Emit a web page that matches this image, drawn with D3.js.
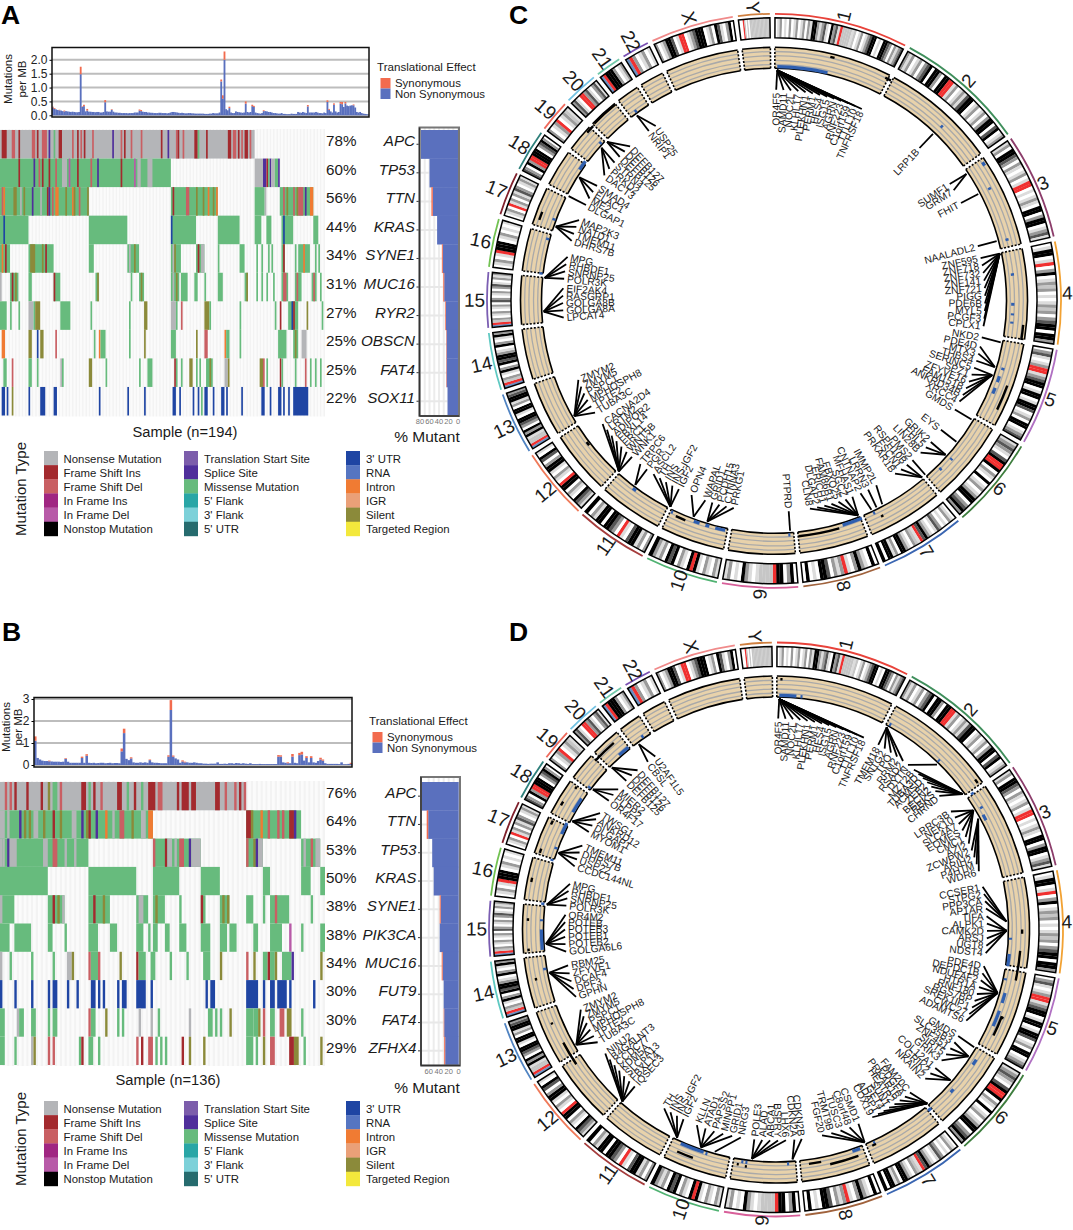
<!DOCTYPE html>
<html><head><meta charset="utf-8">
<style>html,body{margin:0;background:#fff}svg{display:block}text{font-family:"Liberation Sans",Arial,sans-serif;fill:#1a1a1a}</style>
<script src="https://cdn.jsdelivr.net/npm/d3@7/dist/d3.min.js"></script></head><body><script>
// ---------- mutation type legend ----------
const typeCodes=["N","I","D","J","K","O","T","P","M","F","G","U","V","R","E","Y","S","Z"];
const typeNames=["Nonsense Mutation","Frame Shift Ins","Frame Shift Del","In Frame Ins","In Frame Del","Nonstop Mutation","Translation Start Site","Splice Site","Missense Mutation","5' Flank","3' Flank","5' UTR","3' UTR","RNA","Intron","IGR","Silent","Targeted Region"];
const typeColors=["#b4b5b8","#a32a2e","#c95f63","#a02682","#b85aa8","#000000","#7c5dab","#4f2f9b","#67bb7d","#29a6a6","#7dd1d9","#266b6e","#1f45a3","#5675c1","#f07b33","#eaa078","#8b8a3a","#f3e83c"];
// ---------- cohort A ----------
const genesA=["APC","TP53","TTN","KRAS","SYNE1","MUC16","RYR2","OBSCN","FAT4","SOX11"];
const pctA=["78%","60%","56%","44%","34%","31%","27%","25%","25%","22%"];
const nonSynPctA=[78,60,53,44,32,29,25.5,24,24,22];
const synPctA=[0,0,3,0,2,2,1.5,1,1,0];
const A_APC=[[0,152,"N"],[1,4,"I"],[7,9,"D"],[11,12,"I"],[19,21,"D"],[22,23,"I"],[25,28,"D"],[29,30,"P"],[32,33,"M"],[35,37,"I"],[43,44,"D"],[46,47,"I"],[48,49,"D"],[50,51,"I"],[55,56,"D"],[67,68,"P"],[72,73,"D"],[74,75,"I"],[78,79,"D"],[84,85,"D"],[96,97,"I"],[100,101,"P"],[105,106,"D"],[106,107,"I"],[109,110,"D"],[116,118,"I"],[118,119,"M"],[123,124,"I"],[136,138,"I"],[139,141,"D"],[142,143,"I"],[144,145,"D"],[146,148,"I"],[149,150,"D"]];
const A_TP53=[[0,102,"M"],[11,12,"I"],[20,21,"P"],[23,24,"D"],[25,26,"I"],[29,30,"I"],[33,34,"D"],[37,40,"N"],[41,42,"K"],[46,47,"I"],[54,55,"D"],[58,59,"P"],[72,73,"I"],[80,81,"K"],[82,84,"N"],[88,91,"N"],[152,157,"N"],[157,159,"P"],[159,160,"I"],[160,161,"M"],[161,162,"P"],[162,164,"N"],[164,166,"M"],[166,167,"P"]];
const A_TTN=[[0,53,"M"],[1,2,"D"],[2,3,"E"],[8,10,"S"],[12,13,"N"],[14,15,"S"],[19,20,"P"],[24,25,"N"],[28,29,"I"],[29,30,"P"],[31,32,"D"],[33,35,"E"],[39,40,"S"],[43,44,"E"],[44,45,"S"],[47,48,"D"],[52,53,"S"],[102,130,"M"],[103,104,"I"],[111,113,"D"],[117,118,"S"],[121,122,"S"],[124,125,"E"],[127,128,"S"],[129,130,"E"],[152,158,"M"],[158,159,"N"],[167,187,"M"],[169,170,"D"],[171,172,"S"],[175,176,"D"],[177,178,"S"],[178,181,"D"],[182,183,"P"],[185,187,"E"]];
const A_KRAS=[[0,17,"M"],[2,3,"V"],[53,76,"M"],[102,117,"M"],[102,103,"V"],[130,143,"M"],[152,156,"M"],[159,162,"M"],[168,175,"M"],[169,170,"V"],[187,190,"M"]];
const A_SYNE1=[[0,6,"M"],[1,2,"E"],[3,4,"I"],[17,32,"M"],[18,21,"S"],[25,26,"S"],[27,28,"I"],[53,56,"M"],[76,83,"M"],[77,78,"N"],[80,81,"S"],[102,108,"M"],[103,104,"N"],[104,105,"S"],[117,122,"M"],[118,119,"I"],[120,122,"N"],[130,131,"M"],[143,146,"M"],[153,154,"M"],[156,157,"M"],[160,161,"M"],[162,163,"M"],[168,170,"M"],[169,170,"I"],[176,177,"M"],[178,185,"M"],[181,182,"E"],[188,189,"M"],[190,191,"M"]];
const A_MUC16=[[0,1,"N"],[6,11,"M"],[7,8,"I"],[9,10,"S"],[17,19,"M"],[32,36,"M"],[32,33,"I"],[57,59,"M"],[58,59,"S"],[78,79,"M"],[83,86,"M"],[84,85,"S"],[102,107,"M"],[103,104,"N"],[105,106,"S"],[108,112,"M"],[116,118,"M"],[122,123,"M"],[130,133,"M"],[146,148,"M"],[147,148,"S"],[153,154,"M"],[156,157,"M"],[159,160,"M"],[163,164,"M"],[168,172,"M"],[169,171,"D"],[176,180,"M"],[177,178,"D"],[186,189,"M"],[187,188,"D"],[191,192,"M"]];
const A_RYR2=[[0,4,"M"],[6,7,"M"],[11,12,"M"],[17,20,"N"],[20,21,"M"],[21,24,"S"],[36,42,"M"],[54,55,"M"],[77,78,"M"],[86,88,"S"],[102,105,"N"],[105,106,"M"],[108,109,"D"],[122,125,"S"],[125,126,"M"],[143,144,"M"],[164,165,"M"],[167,168,"I"],[172,178,"M"],[174,175,"V"],[175,176,"I"],[183,184,"S"],[192,193,"M"]];
const A_OBSCN=[[1,3,"E"],[17,19,"S"],[22,23,"V"],[24,26,"S"],[33,34,"D"],[56,57,"M"],[59,60,"E"],[60,63,"M"],[77,78,"M"],[86,87,"S"],[102,105,"M"],[117,118,"S"],[122,124,"D"],[134,135,"E"],[135,137,"M"],[143,144,"M"],[166,171,"M"],[175,178,"M"],[176,177,"S"],[180,183,"N"]];
const A_FAT4=[[2,4,"M"],[7,8,"D"],[17,19,"M"],[22,23,"M"],[36,37,"N"],[37,38,"M"],[53,55,"S"],[63,64,"M"],[83,84,"M"],[88,91,"M"],[104,105,"I"],[105,106,"M"],[108,109,"M"],[113,115,"S"],[117,118,"M"],[119,120,"M"],[123,127,"M"],[125,126,"S"],[134,136,"N"],[136,137,"S"],[155,157,"S"],[157,158,"D"],[159,160,"M"],[167,168,"I"],[168,169,"M"],[176,177,"M"],[182,183,"D"],[185,186,"M"],[188,189,"M"],[191,192,"M"]];
const A_SOX11=[[1,3,"V"],[4,5,"V"],[7,8,"S"],[17,18,"V"],[24,27,"V"],[32,34,"V"],[59,60,"V"],[76,77,"V"],[86,87,"V"],[103,105,"V"],[107,108,"V"],[115,116,"V"],[118,119,"V"],[120,121,"M"],[122,124,"V"],[127,128,"V"],[132,134,"V"],[135,136,"V"],[144,145,"V"],[156,158,"V"],[161,162,"V"],[166,168,"V"],[169,170,"V"],[172,173,"V"],[175,184,"V"]];
const rowsA=[A_APC,A_TP53,A_TTN,A_KRAS,A_SYNE1,A_MUC16,A_RYR2,A_OBSCN,A_FAT4,A_SOX11];
const burdenNonSynA=[.28,.23,.21,.19,.18,.17,.15,.14,.15,.14,.13,.12,.13,.12,.11,.11,.12,1.48,.3,.33,.14,.17,.13,.13,.12,.12,.11,.12,.12,.1,.1,.12,.47,.14,.13,.13,.2,.13,.1,.1,.09,.09,.08,.08,.08,.08,.07,.08,.08,.08,.1,.1,.1,.17,.15,.13,.12,.12,.1,.1,.09,.09,.08,.08,.08,.09,.09,.08,.08,.08,.07,.08,.1,.12,.12,.11,.1,.09,.08,.09,.08,.07,.07,.08,.08,.07,.07,.06,.06,.06,.06,.06,.06,.05,.05,.05,.06,.06,.08,.07,.07,.07,.1,1.22,.6,2.0,.22,.18,.26,.1,.08,.08,.14,.12,.11,.1,.09,.1,.42,.12,.1,.12,.33,.3,.1,.08,.07,.06,.08,.15,.15,.14,.12,.12,.1,.08,.08,.07,.06,.06,.08,.05,.05,.04,.04,.04,.06,.05,.05,.05,.12,.1,.09,.12,.1,.08,.32,.1,.1,.1,.1,.12,.1,.08,.08,.07,.1,.08,.48,.2,.14,.1,.38,.14,.1,.12,.42,.4,.3,.43,.35,.33,.35,.36,.36,.28,.12,.1,.12,.08,.06,.05,.04,.03];
const burdenSynA=[[0,.03],[1,.03],[4,.02],[7,.03],[17,.27],[18,.02],[19,.05],[21,.06],[32,.08],[36,.02],[53,.04],[54,.04],[103,.07],[104,.12],[105,.3],[108,.05],[118,.08],[122,.05],[123,.04],[129,.03],[156,.05],[168,.06],[169,.03],[172,.05],[176,.06],[177,.08],[179,.05],[184,.03]];
// ---------- cohort B ----------
const genesB=["APC","TTN","TP53","KRAS","SYNE1","PIK3CA","MUC16","FUT9","FAT4","ZFHX4"];
const pctB=["76%","64%","53%","50%","38%","38%","34%","30%","30%","29%"];
const nonSynPctB=[76,61,53,50,36,38,32,30,29,27];
const synPctB=[0,3,0,0,2,0,2,0,1,2];
const B_APC=[[0,103,"N"],[2,3,"D"],[4,5,"D"],[6,7,"I"],[11,12,"I"],[17,18,"I"],[20,21,"S"],[22,24,"M"],[25,26,"D"],[34,36,"I"],[37,38,"M"],[39,40,"I"],[42,43,"D"],[49,51,"I"],[53,54,"M"],[56,57,"I"],[59,60,"M"],[62,65,"I"],[66,68,"D"],[74,75,"I"],[76,79,"I"],[80,82,"I"],[90,92,"I"],[94,95,"D"],[98,99,"D"],[100,101,"I"],[102,103,"D"]];
const B_TTN=[[0,64,"M"],[0,2,"N"],[3,4,"N"],[8,9,"P"],[10,11,"S"],[12,13,"S"],[14,16,"N"],[18,19,"S"],[22,23,"I"],[25,26,"S"],[30,32,"N"],[34,35,"P"],[36,37,"S"],[37,38,"I"],[40,41,"P"],[44,45,"E"],[47,48,"N"],[50,52,"D"],[55,56,"S"],[59,61,"N"],[62,64,"E"],[103,126,"M"],[103,105,"I"],[105,106,"S"],[109,110,"E"],[112,113,"D"],[116,117,"D"],[118,119,"D"],[121,123,"I"],[123,124,"P"]];
const B_TP53=[[0,37,"M"],[0,1,"N"],[1,2,"N"],[3,4,"P"],[4,7,"N"],[18,20,"N"],[22,24,"D"],[27,28,"N"],[31,32,"N"],[64,84,"M"],[64,65,"D"],[69,70,"I"],[70,72,"N"],[73,74,"N"],[75,77,"D"],[79,80,"P"],[80,84,"N"],[103,110,"M"],[103,104,"D"],[106,107,"S"],[107,108,"P"],[108,110,"N"],[126,134,"M"],[127,128,"N"],[130,131,"D"],[132,134,"N"]];
const B_KRAS=[[0,20,"M"],[37,57,"M"],[64,75,"M"],[84,92,"M"],[110,113,"M"],[126,130,"M"],[134,136,"M"]];
const B_SYNE1=[[0,6,"M"],[0,1,"N"],[20,27,"M"],[22,23,"I"],[24,25,"S"],[26,27,"N"],[37,46,"M"],[39,40,"I"],[43,44,"S"],[57,62,"M"],[58,60,"N"],[64,69,"M"],[65,66,"S"],[75,76,"M"],[84,86,"M"],[84,85,"I"],[92,96,"M"],[93,94,"S"],[95,96,"S"],[103,106,"M"],[110,111,"M"],[113,121,"M"],[115,116,"D"],[130,131,"M"]];
const B_PIK3CA=[[0,4,"M"],[6,13,"M"],[20,22,"M"],[27,28,"M"],[37,41,"M"],[46,49,"M"],[57,60,"M"],[62,63,"M"],[64,66,"M"],[69,71,"M"],[75,78,"M"],[84,88,"M"],[92,95,"M"],[96,99,"M"],[106,108,"M"],[113,118,"M"],[121,122,"K"],[126,127,"M"],[134,136,"M"]];
const B_MUC16=[[0,1,"N"],[4,5,"M"],[13,14,"M"],[22,23,"M"],[28,30,"N"],[30,31,"S"],[37,38,"D"],[38,41,"M"],[41,42,"D"],[50,51,"S"],[57,58,"I"],[58,61,"M"],[63,65,"M"],[71,72,"M"],[78,79,"M"],[85,88,"M"],[92,93,"S"],[103,104,"D"],[106,107,"S"],[110,112,"M"],[112,113,"I"],[113,115,"M"],[115,116,"S"],[118,122,"M"],[122,123,"P"],[134,135,"S"]];
const B_FUT9=[[0,1,"V"],[6,7,"V"],[13,14,"V"],[20,21,"V"],[22,24,"V"],[28,29,"V"],[32,33,"V"],[38,40,"V"],[41,42,"V"],[43,44,"V"],[49,50,"V"],[51,53,"V"],[57,61,"V"],[63,64,"V"],[86,87,"V"],[88,90,"V"],[103,108,"V"],[110,111,"V"],[113,115,"V"],[116,120,"V"],[121,122,"V"],[131,132,"V"]];
const B_FAT4=[[0,2,"M"],[7,8,"N"],[8,10,"M"],[13,15,"M"],[20,21,"M"],[22,24,"M"],[37,38,"D"],[38,40,"M"],[44,45,"S"],[49,50,"M"],[51,52,"M"],[58,59,"N"],[63,64,"N"],[66,67,"M"],[79,80,"N"],[87,89,"M"],[90,91,"M"],[92,93,"M"],[96,97,"S"],[103,106,"M"],[106,108,"M"],[108,109,"S"],[110,111,"D"],[113,115,"M"],[117,119,"D"],[120,122,"S"],[126,127,"M"]];
const B_ZFHX4=[[0,2,"M"],[6,7,"M"],[13,14,"N"],[14,15,"S"],[20,21,"D"],[22,23,"D"],[33,34,"M"],[34,35,"I"],[37,39,"M"],[41,42,"M"],[57,58,"D"],[59,60,"I"],[62,64,"D"],[65,66,"M"],[67,68,"M"],[69,70,"M"],[76,77,"I"],[79,80,"S"],[85,86,"S"],[103,106,"M"],[107,108,"M"],[110,111,"S"],[113,115,"D"],[121,123,"I"],[123,125,"S"],[127,128,"M"],[134,135,"S"]];
const rowsB=[B_APC,B_TTN,B_TP53,B_KRAS,B_SYNE1,B_PIK3CA,B_MUC16,B_FUT9,B_FAT4,B_ZFHX4];
const burdenNonSynB=[1.1,.32,.25,.2,.18,.18,.17,.16,.15,.15,.15,.14,.15,.28,.15,.1,.1,.1,.1,.1,.32,.1,.42,.1,.09,.1,.08,.09,.1,.1,.08,.09,.1,.08,.09,.09,.08,.62,1.45,.28,.22,.3,.12,.1,.1,.12,.1,.12,.1,.22,.12,.1,.1,.09,.08,.08,.08,.38,2.5,.38,.3,.25,.1,.16,.12,.12,.1,.1,.12,.1,.08,.08,.06,.06,.05,.06,.06,.06,.12,.05,.05,.06,.05,.08,.08,.06,.09,.08,.06,.08,.06,.05,.08,.04,.04,.04,.05,.04,.04,.04,.04,.04,.04,.04,.38,.38,.12,.1,.08,.08,.38,.1,.08,.45,.48,.2,.32,.12,.32,.12,.1,.18,.25,.2,.08,.05,.05,.05,.05,.05,.04,.12,.03,.03,.05,.05];
const burdenSynB=[[0,.2],[6,.03],[13,.03],[20,.06],[22,.07],[37,.13],[38,.2],[41,.05],[49,.03],[57,.06],[58,.45],[59,.05],[63,.05],[64,.03],[104,.07],[105,.06],[108,.04],[110,.12],[113,.1],[114,.12],[116,.08],[118,.08],[122,.08],[123,.05],[135,.05]];
// ---------- genome ----------
const chrNames=["1","2","3","4","5","6","7","8","9","10","11","12","13","14","15","16","17","18","19","20","21","22","X","Y"];
const chrLengthMb=[249,243,198,191,181,171,159,146,141,136,135,134,115,107,103,90,81,78,59,63,48,51,155,59];
const chrColors=["#e8423a","#3f8f5c","#8c3d6b","#f2a233","#b070c2","#3d7d3d","#3a66b2","#a0623c","#d8609a","#50b272","#a53c3c","#ef7a5a","#5184c2","#5fc9c2","#7b5eb2","#72c252","#7f202c","#2f807b","#ef6a5c","#72c2e2","#72c9aa","#7a50b2","#f08a8a","#d08040"];
const chrBands=["wlgwlwgwlgwlgwglkkglgdlwkgdlrcccclcwlgwlgdkkwlwkkdgwglgd","glgwlgwgdkwkkgwkkrrlgwlgldkkwlgwlgwgkkwdkwlg","lgwkkdgwglwlgwlrrwlwlglwkkwgkkwlgdl","wlkkwlrwgkwlgcgwlwlgcgwgdkkwkkg","wgdlwlgrrlgdkkwlkkwlkkdwlgwkkwlgd","lgdglwdkrrkwglwkwlgwlgkkwgdkg","wlgwlwgdlwlgkdrlcgwlgkkwglkkwk","wkwlgkgwlrglgwdkkwlwkw","wkgwkkrcccclwlgkwlwgl","lgwlgwlkrkwlgwkdkwglgk","gwglkkdwlrwgdkkwkklgwk","lgdkwlgwkkrwlgwlkkgwdkwl","srcclkgkwgdkkwlkkwglkkdg","srcgwlkgwkdkkglwkgwlkg","srcgwlgwlgwdgwlgwgdlwglg","wlgwlrkkkwlgwlwl","wlgwrlgwgldgwlgl","dgwkgrrkkkwgdkgw","gwlgrwlgcl","gdlwrrgdlwgdl","srkkkgwlg","srgwlgwl","gwlgkkdwlrrwlgdkkkwlgwkdlwgkw","wwwrcwcwccccccccccccccc"];
const bandShades={w:"#ffffff",l:"#dcdcdc",c:"#c6c6c6",g:"#9a9a9a",d:"#565656",k:"#000000",r:"#f03030",s:"#6a90c2"};
// gene labels: [gene angle on the ring (deg), first label angle (deg), label step (deg), names]
const chr1Genes=["OR4F5","SAMD11","NOC2L","KLHL17","PLEKHN1","PERM1","HES4","ISG15","AGRN","RNF223","C1orf159","TTLL10","TNFRSF18"];
const labelsC=[[0.8,0.6,2,chr1Genes],[43.6,43.6,2,["LRP1B"]],[56.6,56.4,2,["SUMF1","GRM7"]],[62.4,62.4,2,["FHIT"]],[75,75,2,["NAALADL2"]],[78.2,78.3,2.07,["ZNF595","ZNF718","ZNF732","ZNF141","ZNF721","PIGG","PDE6B","MYL5","PCGF3","CPLX1"]],[100.4,100,2,["NKD2"]],[106.7,102.5,2,["PDE4D","MTX3","THBS4"]],[108.8,108.5,2,["SERINC5","SPZ1","ZFYVE16","FAM151B","ANKRD34B","XRCC4"]],[121,121,2,["GMDS"]],[127.7,127.7,2,["EYS"]],[131.9,132,2,["GRIK2","FHL5","LIN28B"]],[139,139,2,["PMS2"]],[140,141,2,["RSPH10B","FSCN1","PRKAR1B"]],[152,151,2,["IMMP2L"]],[153.6,153.5,2,["LRRN3"]],[155,155.8,2,["CNTNAP2"]],[158.6,158.2,2,["MFHAS1","SGCZ","FBXO25","FAM86B1","ERICH1","DLGAP2","CLN8"]],[176,176,2,["PTPRD"]],[196.8,191,2,["PRKG1","CTNNA3","PCDH15","GRID1"]],[200.4,199,4,["WAPAL","OPN4"]],[206.7,206.8,2,["IGF2","INS-IGF2","INS","TH","ASCL2"]],[217,217,2.3,["PGR","TRPC6"]],[222.3,222.3,2,["WNK1","WNT5B","ERC1","FBXL14","ADIPOR2","LRTM2","CACNA2D4"]],[240,238,2,["TUBA3C","TPTE2","MPHOSPH8","PSPC1","ZMYM5","ZMYM2"]],[267.3,265.4,2,["LPCAT4","GOLGA8A","GOLGA8B","RASGRP1","EIF2AK4"]],[275.7,276,2,["POLR3K","SNRNP25","RHBDF1","MPG"]],[288.8,286.5,2,["DHRS7B","TMEM11","NATD1","MAP2K3"]],[297,297,2,["DLGAP1"]],[302.4,299,2,["ME2","ELAC1","SMAD4"]],[311.6,306.5,2.2,["DACT3","PRKD2","STRN4"]],[313.6,313,2,["DEFB125","DEFB126","DEFB127"]],[323.5,323.6,2.3,["NRIP1","USP25"]]];
const labelsD=[[0.8,0.6,2,chr1Genes],[28.7,29,2,["TMEM18","SNTG2","TPO","RRM2","RSAD2"]],[44.3,38.7,2,["DYTN"]],[54,40.8,1.65,["MZT2B","TUBA3D","ACMSD","ZEB2","BECN2","RBKS","CHRND"]],[58.9,56,2,["LRRC3B","NEK10","SLC4A7","EOMES","CMC1","AZI2"]],[61.3,68,2,["ZCWPW2","ARIH2","P4HTM","WDR6"]],[88,78.3,2,["CCSER1","STPG2","PPP3CA","AP1AR"]],[90.3,86.4,2,["TIFA","ALPK1","CAMK2D","ARSJ","UGT8","NDST4"]],[106,100,1.95,["PDE4D","DEPDC1B","NDUFAF2","HTR1A","RNF180","RGS7BP","SREK1IP1","CWC27","ADAMTS6"]],[120.7,120.3,2,["GMDS"]],[123.4,122.3,2,["SLC35B3","ZNF451","SIRT5","GRIK3"]],[130.8,131,2,["COL12A1","GRIK2","NKAIN2"]],[139,140.6,1.75,["FAM20C","PDGFA","PRKAR1B","HEATR2","SUN1","GET4","ADAP1","COX19"]],[157.4,157,2.6,["CSMD1","C8orf48","TUSC3","TRMT9B","FGF20"]],[175.9,173,2,["CDKN2B","CDKN2A"]],[186,177.3,2.15,["LHX6","BSPRY","ABCA1","ALAD","POLE3"]],[195.4,189.6,2,["NRG3"]],[199,192,2.5,["GRID1","MINPP1","PAPSS2","ATAD1","KLLN"]],[205.4,206,2,["IGF2","INS-IGF2","INS","TH"]],[221.8,222,2,["IQSEC3","FBXL14","SLC6A13","KDM5A","CCDC77","B4GALNT3","NINJ2"]],[240,237.7,2,["TUBA3C","TPTE2","MPHOSPH8","PSPC1","ZMYM5","ZMYM2"]],[259.2,251.4,2.2,["GPHN","DPF3","DCAF4","ZFYVE1","RBM25"]],[266.4,264,2,["GOLGA6L6","POTEB2","POTEB1","POTEB3","POTEB","OR4M2"]],[276.2,276.5,2,["POLR3K","SNRNP25","RHBDF1","MPG"]],[289.4,287.4,2,["CCDC144NL","USP22","DHRS7B","TMEM11"]],[298,297.5,2,["MYOM1","DLGAP1","ANKRD12","TWSG1"]],[307.4,307.6,2,["OR4F17","PLPP2","MIER2"]],[314.6,314.8,2.1,["DEFB125","DEFB126","DEFB127"]],[323.5,322.6,2.5,["CBSL","U2AF1L5"]]];
// ring marks: [start deg, end deg, level inside the track 0..1]
const ringBlueC=[[0.8,13.2,.08],[43.6,44.2,.45],[56.4,57.3,.85],[62.2,62.8,.5],[75,75.6,.4],[83.4,84,.35],[90.5,91.2,.3],[93,93.5,.3],[95,95.5,.3],[106.3,106.9,.3],[108.5,110,.25],[111.5,113,.25],[131.5,132,.25],[135,135.6,.2],[154.5,155,.1],[158,163,.1],[176,176.5,.1],[192,194.5,.1],[196,197,.1],[198.5,200,.1],[205.5,206,.1],[216,217,.1],[276.4,277,.1],[285,285.6,.1],[290,290.6,.1],[304,306.5,.1],[312,312.6,.1],[323.6,324.2,.1]];
const ringBlackC=[[13,14,.85],[26.5,28,.8],[95.5,99,.85],[110,116,.75],[153,153.6,.4],[164,174,.2],[202,204.5,.2],[232,233,.1],[289,291,.75],[312,314,.9],[314.6,321,.95]];
const ringBlueD=[[0.8,5,.08],[6,6.5,.08],[28.9,29.4,.1],[43.7,44.2,.1],[55,55.6,.3],[59,59.6,.3],[61,62.5,.2],[92,92.5,.1],[96,99,.1],[102,102.5,.1],[105.5,108,.25],[110,114,.25],[123,124.5,.3],[132,133,.3],[139,140,.2],[155,155.5,.1],[159,161,.1],[176.8,177.3,.1],[187,187.5,.1],[188,188.5,.1],[197,197.5,.1],[198,204,.08],[260,260.6,.1],[265,270,.1],[272,272.5,.1],[276,276.6,.1],[287,287.5,.1],[290,290.6,.1],[294,297,.1],[300,304,.1],[307,307.6,.1],[318,321,.1],[325,325.6,.1]];
const ringBlackD=[[1,1.5,.85],[53,54,.8],[90,91,.65],[95,102,.6],[111,111.6,.5],[111,116,.45],[155,156,.2],[160,167,.4],[169,172,.2],[187,187.5,.3],[189,189.5,.25],[200,204,.5],[236,242,.4],[247,247.5,.5],[258,258.6,.6],[265,265.6,.75],[272,272.6,.75],[281,282,.8],[288,289,.75],[295,296,.75],[300,301,.75],[305,305.6,.6],[313,319,.7]];

// ---------- drawing ----------
const W=1073,H=1230;
const svg=d3.select("body").append("svg").attr("width",W).attr("height",H).attr("viewBox",[0,0,W,H]);
const colorOf=d3.scaleOrdinal(typeCodes,typeColors);
[["A",1,24],["B",2,641],["C",509,24],["D",509,641]].forEach(([t,x,y])=>svg.append("text").attr("x",x).attr("y",y).attr("font-size",26.5).attr("font-weight",700).style("fill","#000").text(t));

function onco(cfg){
  const {n,rows,genes,pct,nonSyn,syn,burdenN,burdenS,top,hm,right,sampleLabel,mb}=cfg;
  const g=svg.append("g");
  const bx=d3.scaleBand(d3.range(n),[top.x0,top.x1]);
  const by=d3.scaleLinear([0,top.max],[top.y0,top.y1]);
  top.ticks.forEach(t=>g.append("line").attr("x1",top.x0).attr("x2",top.x1).attr("y1",by(t)).attr("y2",by(t)).attr("stroke","#bdbdbd").attr("stroke-width",2));
  const synMap=new Map(burdenS);
  const bars=g.append("g");
  burdenN.forEach((v,i)=>{
    const s=synMap.get(i)||0;
    bars.append("rect").attr("x",bx(i)).attr("width",bx.bandwidth()+.2).attr("y",by(v)).attr("height",by(0)-by(v)).attr("fill","#5a70be");
    if(s)bars.append("rect").attr("x",bx(i)).attr("width",bx.bandwidth()+.2).attr("y",by(v+s)).attr("height",by(v)-by(v+s)).attr("fill","#f26b4e");
  });
  g.append("rect").attr("x",top.x0).attr("y",top.frameTop).attr("width",top.x1-top.x0).attr("height",top.frameBottom-top.frameTop).attr("fill","none").attr("stroke","#111").attr("stroke-width",1.5);
  const ax=g.append("g").attr("transform",`translate(${top.x0},0)`).call(d3.axisLeft(by).tickValues(top.ticks).tickFormat(d3.format(top.fmt)).tickSize(2.5));
  ax.select(".domain").remove();ax.selectAll("text").attr("font-size",12).attr("dx",1).style("font-family",'"Liberation Sans"').style("fill","#222");
  [["Mutations",top.lab1],["per MB",top.lab2]].forEach(([t,x])=>g.append("text").attr("transform",`translate(${x},${top.labY}) rotate(-90)`).attr("text-anchor","middle").attr("font-size",11.5).text(t));
  const L=top.legend;
  g.append("text").attr("x",L.x).attr("y",L.y).attr("font-size",11.6).text("Translational Effect");
  [["Synonymous","#f26b4e"],["Non Synonymous","#5a70be"]].forEach(([t,c],i)=>{
    g.append("rect").attr("x",L.x+3.5).attr("y",L.y+7+i*10.5).attr("width",10).attr("height",10.5).attr("fill",c);
    g.append("text").attr("x",L.x+18).attr("y",L.y+16+i*10.7).attr("font-size",11.4).text(t);
  });
  const x=d3.scaleBand(d3.range(n),[0,hm.w]);
  const y=d3.scaleBand(d3.range(rows.length),[hm.y0,hm.y1]);
  d3.range(n).forEach(i=>g.append("rect").attr("x",x(i)).attr("y",hm.y0-1).attr("width",x.bandwidth()).attr("height",hm.y1-hm.y0+2).attr("fill",i%2?"#f3f3f3":"#fbfbfb"));
  rows.forEach((row,r)=>{
    row.forEach(([s,e,t])=>g.append("rect").attr("x",x(s)).attr("y",y(r)).attr("width",e<n?x(e)-x(s):hm.w-x(s)).attr("height",y.bandwidth()).attr("fill",colorOf(t)));
    const cy=y(r)+y.bandwidth()/2;
    g.append("text").attr("x",326).attr("y",cy+2).attr("font-size",15.2).text(pct[r]);
    g.append("text").attr("x",right.nameX).attr("y",cy+2).attr("text-anchor","end").attr("font-style","italic").attr("font-size",15.2).text(genes[r]);
  });
  g.append("text").attr("x",hm.labelX).attr("y",hm.labelY).attr("text-anchor","middle").attr("font-size",14.7).text(sampleLabel);
  const px=d3.scaleLinear([0,right.max],[right.x0,right.x1]);
  const py=d3.scaleBand(d3.range(rows.length),[hm.y0,hm.y1]);
  px.ticks(right.max/10).forEach(t=>g.append("line").attr("x1",px(t)).attr("x2",px(t)).attr("y1",right.top).attr("y2",right.bottom).attr("stroke","#ececec").attr("stroke-width",2));
  rows.forEach((_,r)=>{
    g.append("line").attr("x1",right.left).attr("x2",right.x0).attr("y1",py(r)+py.bandwidth()/2).attr("y2",py(r)+py.bandwidth()/2).attr("stroke","#e8e8e8").attr("stroke-width",2);
    g.append("line").attr("x1",right.left-3).attr("x2",right.left).attr("y1",py(r)+py.bandwidth()/2).attr("y2",py(r)+py.bandwidth()/2).attr("stroke","#333");
    g.append("rect").attr("x",px(nonSyn[r])).attr("y",py(r)).attr("width",right.x0-px(nonSyn[r])).attr("height",py.bandwidth()+.3).attr("fill","#5a70be");
    g.append("rect").attr("x",px(nonSyn[r]+syn[r])).attr("y",py(r)).attr("width",px(nonSyn[r])-px(nonSyn[r]+syn[r])).attr("height",py.bandwidth()+.3).attr("fill","#f26b4e");
  });
  g.append("rect").attr("x",right.left).attr("y",right.top).attr("width",right.right-right.left).attr("height",right.bottom-right.top).attr("fill","none").attr("stroke","#777").attr("stroke-width",2);
  g.append("line").attr("x1",right.left).attr("x2",right.left).attr("y1",right.top).attr("y2",right.bottom).attr("stroke","#333").attr("stroke-width",1.5);
  g.append("line").attr("x1",right.left).attr("x2",right.right).attr("y1",right.bottom).attr("y2",right.bottom).attr("stroke","#333").attr("stroke-width",1.5);
  right.ticks.forEach(t=>g.append("text").attr("x",px(t)).attr("y",right.bottom+8).attr("text-anchor","middle").attr("font-size",7.5).style("fill","#777").text(t));
  g.append("text").attr("x",427).attr("y",right.labelY).attr("text-anchor","middle").attr("font-size",15.5).text("% Mutant");
  const my=d3.scaleBand(d3.range(6),[mb.y,mb.y+mb.h*6]);
  const cols=[[44,63.5],[184,204],[346,366]];
  typeNames.forEach((t,i)=>{
    const c=Math.floor(i/6),r=i%6;
    g.append("rect").attr("x",cols[c][0]).attr("y",my(r)).attr("width",14).attr("height",my.bandwidth()+.3).attr("fill",typeColors[i]);
    g.append("text").attr("x",cols[c][1]).attr("y",my(r)+my.bandwidth()/2+4.5).attr("font-size",11.4).text(t);
  });
  g.append("text").attr("transform",`translate(26,${mb.y+38}) rotate(-90)`).attr("text-anchor","middle").attr("font-size",15).text("Mutation Type");
}
onco({n:194,rows:rowsA,genes:genesA,pct:pctA,nonSyn:nonSynPctA,syn:synPctA,burdenN:burdenNonSynA,burdenS:burdenSynA,
 top:{x0:52,x1:369,y0:115.3,y1:48.7,max:2.4,ticks:[0,.5,1,1.5,2],fmt:".1f",frameTop:47.5,frameBottom:117,lab1:12,lab2:26,labY:79,legend:{x:377,y:71}},
 hm:{w:325,y0:130,y1:415.5,labelX:185,labelY:437},right:{x0:458,x1:420,max:80,top:127.5,bottom:416,left:419.5,right:459,nameX:415,ticks:[80,60,40,20,0],labelY:442},sampleLabel:"Sample (n=194)",mb:{y:451,h:14.15}});
onco({n:136,rows:rowsB,genes:genesB,pct:pctB,nonSyn:nonSynPctB,syn:synPctB,burdenN:burdenNonSynB,burdenS:burdenSynB,
 top:{x0:34,x1:352,y0:765,y1:699,max:3,ticks:[0,1,2,3],fmt:"d",frameTop:697.5,frameBottom:767,lab1:9.5,lab2:22,labY:727,legend:{x:369,y:725}},
 hm:{w:325,y0:782,y1:1065,labelX:168,labelY:1085},right:{x0:458.7,x1:428.7,max:60,top:777,bottom:1065.5,left:421,right:460,nameX:416.5,ticks:[60,40,20,0],labelY:1093},sampleLabel:"Sample (n=136)",mb:{y:1101,h:14.15}});

// ---------- circos ----------
const rad=d=>d*Math.PI/180;
const totalMb=d3.sum(chrLengthMb),gapDeg=1.03;
const degScale=d3.scaleLinear([0,totalMb],[0,360-gapDeg*chrNames.length]);
let cum=0;
const chrSpans=chrLengthMb.map((l,i)=>{const s=0.2+degScale(cum)+i*gapDeg;cum+=l;return [s,s+degScale(l)]});
function radialRot(a){return a<180?a-90:a-270}
function circos(cx,cy,labels,blue,black,tucked){
  const g=svg.append("g").attr("transform",`translate(${cx},${cy})`);
  const arc=d3.arc();
  const A=(r0,r1,a0,a1)=>arc({innerRadius:r0,outerRadius:r1,startAngle:rad(a0),endAngle:rad(a1)});
  const R={arc:287,idO:283,idI:263,trO:253.5,trI:232.5};
  const level=d3.scaleLinear([0,1],[R.trI,R.trO]);
  chrSpans.forEach(([a0,a1],i)=>{
    g.append("path").attr("d",A(R.arc-.9,R.arc+.9,a0,a1)).attr("fill",chrColors[i]);
    const mid=(a0+a1)/2,lr=(mid<180?293.5:293.5+6*Math.abs(Math.sin(rad(mid))))-(tucked.includes(chrNames[i])?2.5:0);
    g.append("text").attr("transform",`translate(${lr*Math.sin(rad(mid))},${-lr*Math.cos(rad(mid))}) rotate(${radialRot(mid)})`).attr("text-anchor","middle").attr("dy",".36em").attr("font-size",19).text(chrNames[i]);
    const bands=chrBands[i].split("");
    const bs=d3.scaleLinear([0,bands.length],[a0,a1]);
    bands.forEach((b,k)=>g.append("path").attr("d",A(R.idI,R.idO,bs(k),bs(k+1)+.03)).attr("fill",bandShades[b]));
    g.append("path").attr("d",A(R.idI,R.idO,a0,a1)).attr("fill","none").attr("stroke","#000").attr("stroke-width",1.5);
    g.append("path").attr("d",A(R.trI,R.trO,a0,a1)).attr("fill","#e8d2ab");
    [.18,.38,.6,.8].forEach(l=>g.append("path").attr("d",A(level(l),level(l),a0,a1)).attr("fill","none").attr("stroke","#a9a9a9").attr("stroke-width",1.3));
    [R.trI,R.trO].forEach(r=>g.append("path").attr("d",A(r,r,a0,a1)).attr("fill","none").attr("stroke","#000").attr("stroke-width",1.6));
    [a0,a1].forEach(a=>{
      const s=Math.sin(rad(a)),c=Math.cos(rad(a));
      g.append("line").attr("x1",R.trI*s).attr("y1",-R.trI*c).attr("x2",R.trO*s).attr("y2",-R.trO*c).attr("stroke","#000").attr("stroke-width",1.6).attr("stroke-dasharray","2 1.6");
    });
  });
  blue.forEach(([a,b,l])=>g.append("path").attr("d",A(level(l)-1.6,level(l)+1.6,a,b)).attr("fill","#2f5fb0"));
  black.forEach(([a,b,l])=>g.append("path").attr("d",A(level(l)-1.2,level(l)+1.2,a,b)).attr("fill","#000"));
  const apexR=230.5,endR=211,textR=208;
  const P=(r,a)=>[r*Math.sin(rad(a)),-r*Math.cos(rad(a))];
  labels.forEach(([apex,first,step,names])=>{
    names.forEach((nm,i)=>{
      const la=first+i*step,p0=P(apexR,apex),p1=P(endR,la),p2=P(textR,la);
      g.append("line").attr("x1",p0[0]).attr("y1",p0[1]).attr("x2",p1[0]).attr("y2",p1[1]).attr("stroke","#000").attr("stroke-width",1.8);
      g.append("text").attr("transform",`translate(${p2[0]},${p2[1]}) rotate(${radialRot(la)})`).attr("text-anchor",la<180?"end":"start").attr("dy",".35em").attr("font-size",10.2).text(nm);
    });
  });
}
circos(774,300.8,labelsC,ringBlueC,ringBlackC,[]);
circos(776,929.5,labelsD,ringBlueD,ringBlackD,["4","9"]);
</script></body></html>
